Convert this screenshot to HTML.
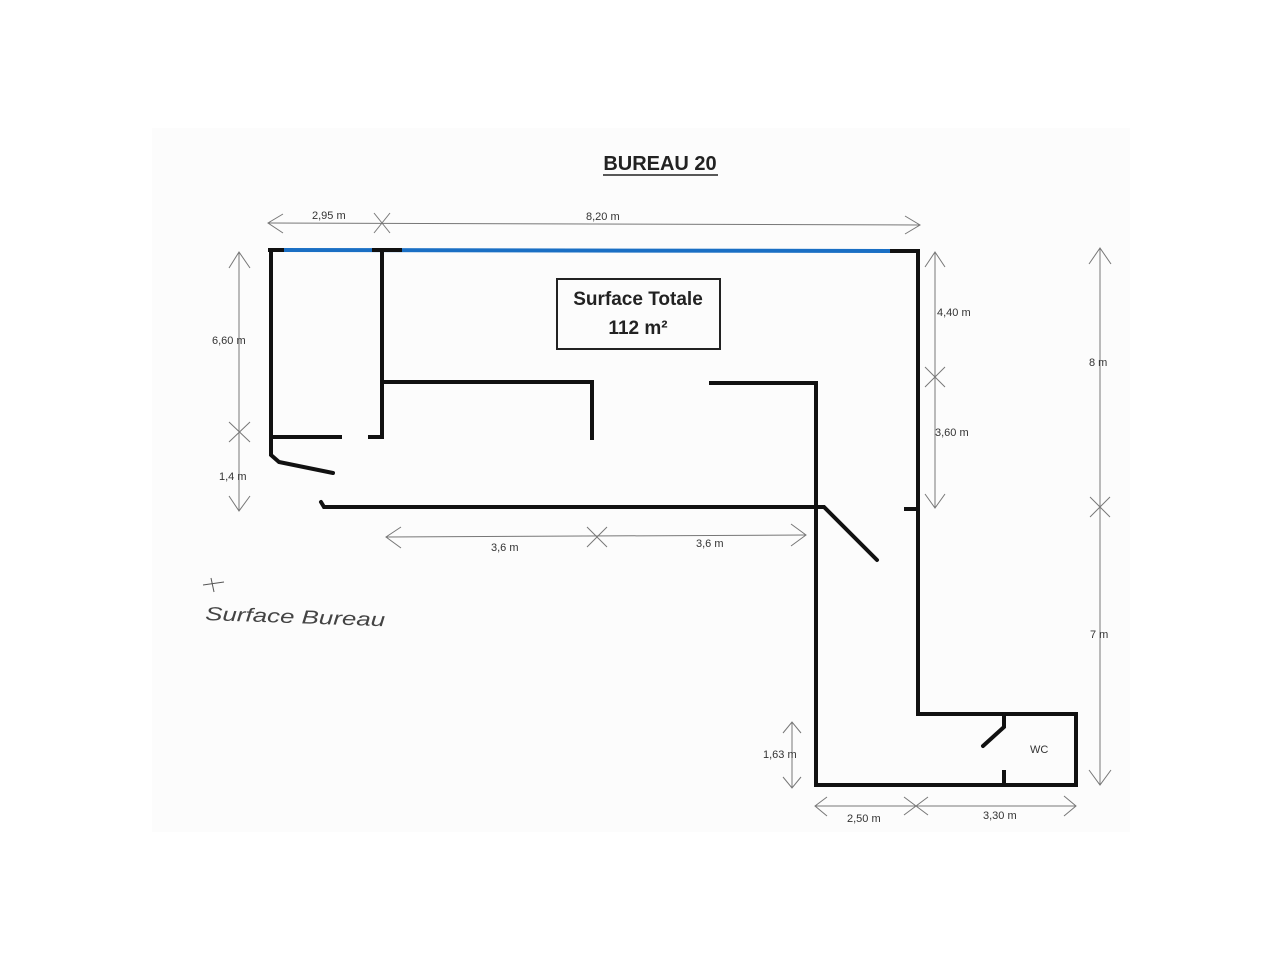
<!DOCTYPE html>
<html><head><meta charset="utf-8"><style>
html,body{margin:0;padding:0;background:#fff;}
svg{display:block;}
text{font-family:"Liberation Sans",sans-serif;}
</style></head><body>
<svg width="1280" height="960" viewBox="0 0 1280 960" xmlns="http://www.w3.org/2000/svg">
<rect x="0" y="0" width="1280" height="960" fill="#fff"/>
<rect x="152" y="128" width="978" height="704" fill="#fcfcfc"/>

<text x="660" y="170" font-size="20" font-weight="bold" text-anchor="middle" fill="#222">BUREAU 20</text>
<line x1="603" y1="175" x2="718" y2="175" stroke="#222" stroke-width="1.5"/>

<rect x="557" y="279" width="163" height="70" fill="none" stroke="#222" stroke-width="2"/>
<text x="638" y="305" font-size="19" font-weight="bold" text-anchor="middle" fill="#222">Surface Totale</text>
<text x="638" y="334" font-size="19" font-weight="bold" text-anchor="middle" fill="#222">112 m²</text>

<g stroke="#777" stroke-width="1" fill="none">
  <line x1="268" y1="223" x2="920" y2="225"/>
  <polyline points="283,214 268,223 283,233"/>
  <polyline points="905,216 920,225 905,234"/>
  <line x1="374" y1="213" x2="390" y2="233"/><line x1="390" y1="213" x2="374" y2="233"/>
  <line x1="239" y1="252" x2="239" y2="510"/>
  <polyline points="229,268 239,252 250,268"/>
  <polyline points="229,496 239,511 250,496"/>
  <line x1="229" y1="422" x2="250" y2="442"/><line x1="250" y1="422" x2="229" y2="442"/>
  <line x1="935" y1="252" x2="935" y2="508"/>
  <polyline points="925,267 935,252 945,267"/>
  <polyline points="925,494 935,508 945,494"/>
  <line x1="925" y1="367" x2="945" y2="387"/><line x1="945" y1="367" x2="925" y2="387"/>
  <line x1="1100" y1="248" x2="1100" y2="785"/>
  <polyline points="1089,264 1100,248 1111,264"/>
  <polyline points="1089,770 1100,785 1111,770"/>
  <line x1="1090" y1="497" x2="1110" y2="517"/><line x1="1110" y1="497" x2="1090" y2="517"/>
  <line x1="386" y1="537" x2="806" y2="535"/>
  <polyline points="401,527 386,537 401,548"/>
  <polyline points="791,524 806,535 791,546"/>
  <line x1="587" y1="527" x2="607" y2="547"/><line x1="607" y1="527" x2="587" y2="547"/>
  <line x1="792" y1="722" x2="792" y2="788"/>
  <polyline points="783,733 792,722 801,733"/>
  <polyline points="783,777 792,788 801,777"/>
  <line x1="815" y1="806" x2="1076" y2="806"/>
  <polyline points="827,797 815,806 827,816"/>
  <polyline points="1064,796 1076,806 1064,816"/>
  <line x1="904" y1="797" x2="928" y2="815"/><line x1="928" y1="797" x2="904" y2="815"/>
</g>

<g font-size="11" fill="#333">
  <text x="312" y="219">2,95 m</text>
  <text x="586" y="220">8,20 m</text>
  <text x="212" y="344">6,60 m</text>
  <text x="219" y="480">1,4 m</text>
  <text x="937" y="316">4,40 m</text>
  <text x="935" y="436">3,60 m</text>
  <text x="1089" y="366">8 m</text>
  <text x="1090" y="638">7 m</text>
  <text x="491" y="551">3,6 m</text>
  <text x="696" y="547">3,6 m</text>
  <text x="763" y="758">1,63 m</text>
  <text x="847" y="822">2,50 m</text>
  <text x="983" y="819">3,30 m</text>
  <text x="1030" y="753">WC</text>
</g>

<g stroke="#111" stroke-width="4" fill="none" stroke-linecap="square" stroke-linejoin="miter">
  <line x1="280" y1="250" x2="892" y2="251" stroke="#1a6fc4" stroke-width="4"/>
  <line x1="270" y1="250" x2="282" y2="250"/>
  <line x1="374" y1="250" x2="400" y2="250"/>
  <line x1="892" y1="251" x2="918" y2="251"/>
  <polyline points="271,250 271,455 279,462 333,473" stroke-linecap="round"/>
  <line x1="271" y1="437" x2="340" y2="437"/>
  <line x1="370" y1="437" x2="382" y2="437"/>
  <line x1="382" y1="250" x2="382" y2="437"/>
  <polyline points="382,382 592,382 592,438"/>
  <polyline points="711,383 816,383 816,785 1076,785 1076,714 918,714 918,251"/>
  <polyline points="321,502 324,507 824,507 877,560" stroke-linecap="round"/>
  <line x1="906" y1="509" x2="918" y2="509"/>
  <polyline points="1004,714 1004,727 983,746" stroke-linecap="round"/>
  <line x1="1004" y1="772" x2="1004" y2="785"/>
</g>

<text x="205" y="620" font-family="'Liberation Serif',serif" font-style="italic" font-size="19" fill="#444" textLength="180" lengthAdjust="spacingAndGlyphs" transform="rotate(2 205 620)">Surface Bureau</text>
<line x1="203" y1="585" x2="224" y2="582" stroke="#555" stroke-width="1"/>
<line x1="211" y1="578" x2="214" y2="592" stroke="#555" stroke-width="1"/>
</svg>
</body></html>
